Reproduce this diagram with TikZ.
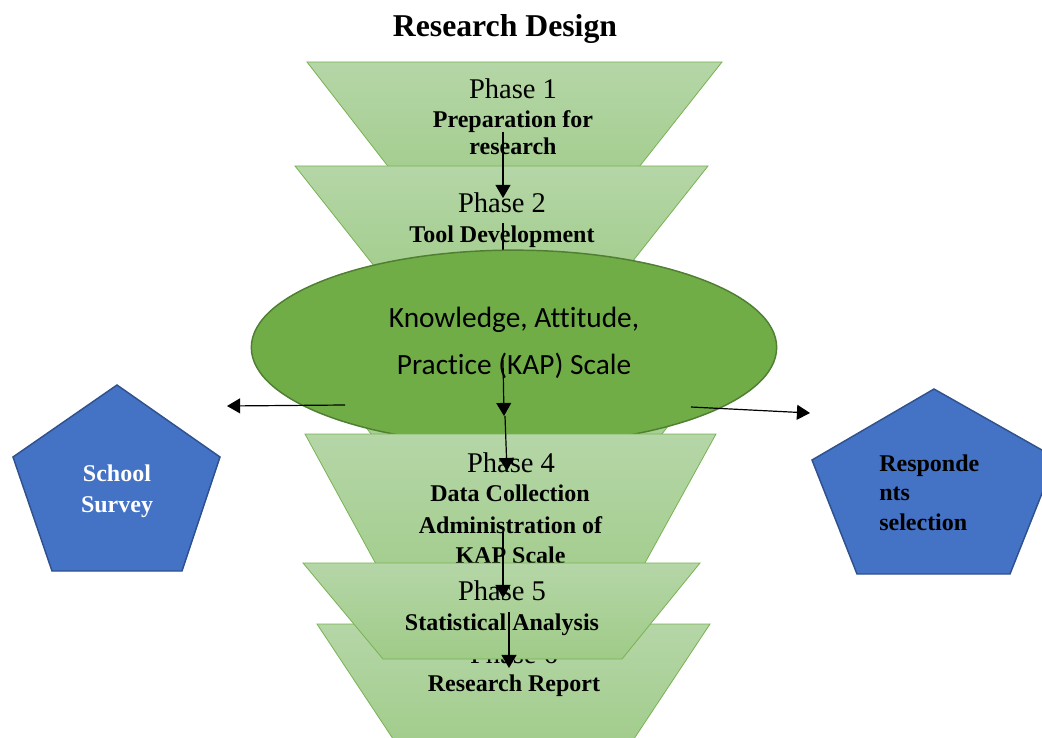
\documentclass[tikz,border=0pt]{standalone}
\usepackage{fontspec}
\setmainfont{Liberation Serif}
\newfontfamily\calibrifont[Ligatures=NoCommon]{Carlito}
\usetikzlibrary{arrows.meta,shapes.geometric}

\definecolor{traptop}{HTML}{B5D6A7}
\definecolor{trapbot}{HTML}{9FCB88}
\definecolor{trapline}{HTML}{78B253}
\definecolor{kapfill}{HTML}{70AD47}
\definecolor{kapline}{HTML}{507E32}
\definecolor{pentfill}{HTML}{4472C4}
\definecolor{pentline}{HTML}{2F528F}

\begin{document}
\begin{tikzpicture}[x=0.75pt,y=-0.75pt,
  phase/.style={draw=trapline, line width=0.6pt, top color=traptop, bottom color=trapbot},
  pent/.style={draw=pentline, line width=1.1pt, fill=pentfill},
  head/.style={anchor=base, inner sep=0pt, font=\fontsize{21.4}{25}\selectfont},
  desc/.style={anchor=base, inner sep=0pt, font=\fontsize{18}{22}\selectfont\bfseries},
  kaptext/.style={anchor=base, inner sep=0pt, font=\calibrifont\fontsize{22}{26}\selectfont},
  flow/.style={-{Triangle[length=9.8pt,width=11.2pt]}, line width=0.9pt}]

\useasboundingbox (0,0) rectangle (1042,738);
\clip (0,0) rectangle (1042,738);

% title
\node[anchor=base, inner sep=0pt, font=\fontsize{23.8}{28}\selectfont\bfseries] (title) at (505,37) {Research Design};

% Phase 1
\path[phase] (307,62) -- (722,62) -- (609,205) -- (418,205) -- cycle;
\node[head] (p1h) at (513,99) {Phase 1};
\node[desc] (p1a) at (513,128) {Preparation for};
\node[desc] (p1b) at (513,155) {research};

% Phase 2
\path[phase] (295,166) -- (708,166) -- (602,300) -- (401,300) -- cycle;
\node[head] (p2h) at (502,213) {Phase 2};
\node[desc] (p2a) at (502,243) {Tool Development};

\coordinate (a1s) at (503,132);
\coordinate (a1e) at (503,198);
\draw[flow] (a1s) -- (a1e);
\coordinate (a2s) at (503,223);
\coordinate (a2e) at (503,300);
\draw[flow] (a2s) -- (a2e);

% Phase 3 (mostly behind the scale)
\path[phase] (311,357) -- (722,357) -- (626,480) -- (407,480) -- cycle;

% KAP scale
\node[draw=kapline, line width=1.1pt, fill=kapfill, ellipse,
      minimum width=394pt, minimum height=146pt, inner sep=0pt] (kap) at (514,347.5) {};
\node[kaptext] (k1) at (514,327.5) {Knowledge, Attitude,};
\node[kaptext] (k2) at (514,374) {Practice (KAP) Scale};

% Phase 4
\path[phase] (305,434) -- (716,434) -- (619,610) -- (401,610) -- cycle;
\node[head] (p4h) at (511,472) {Phase 4};
\node[desc] (p4a) at (510,501) {Data Collection};
\node[desc] (p4b) at (510.5,533) {Administration of};
\node[desc] (p4c) at (510.5,563) {KAP Scale};

% Phase 6 (behind phase 5)
\path[phase] (317,624) -- (710,624) -- (620,760) -- (407,760) -- cycle;
\node[head] (p6h) at (514,663) {Phase 6};
\node[desc] (p6a) at (514,691) {Research Report};

% Phase 5
\path[phase] (303,563) -- (700,563) -- (622,659) -- (383,659) -- cycle;
\node[head] (p5h) at (502,600) {Phase 5};
\node[desc] (p5a) at (502,630) {Statistical Analysis};

% vertical flow through the phases
\coordinate (a3s) at (503,360);
\coordinate (a3e) at (504,416);
\draw[flow] (a3s) -- (a3e);
\coordinate (a4s) at (505,416);
\coordinate (a4e) at (507,471);
\draw[flow] (a4s) -- (a4e);
\coordinate (a5s) at (503,532);
\coordinate (a5e) at (503,598);
\draw[flow] (a5s) -- (a5e);
\coordinate (a6s) at (509,612);
\coordinate (a6e) at (509,668);
\draw[flow] (a6s) -- (a6e);

% side branches
\coordinate (bls) at (345,405);
\coordinate (ble) at (227,406);
\draw[flow] (bls) -- (ble);
\coordinate (brs) at (691,407);
\coordinate (bre) at (810,413);
\draw[flow] (brs) -- (bre);

% School survey
\path[pent] (117,385) -- (220,457) -- (182,571) -- (52,571) -- (13,457) -- cycle;
\node[desc, text=white] (ss1) at (117,481) {School};
\node[desc, text=white] (ss2) at (117,512) {Survey};

% Respondents selection
\path[pent] (934,389) -- (1056,458) -- (1010,574) -- (857,574) -- (812,460) -- cycle;
\node[desc, anchor=base west] (rs1) at (879,471) {Responde};
\node[desc, anchor=base west] (rs2) at (879,500) {nts};
\node[desc, anchor=base west] (rs3) at (879,530) {selection};

\end{tikzpicture}
\end{document}
